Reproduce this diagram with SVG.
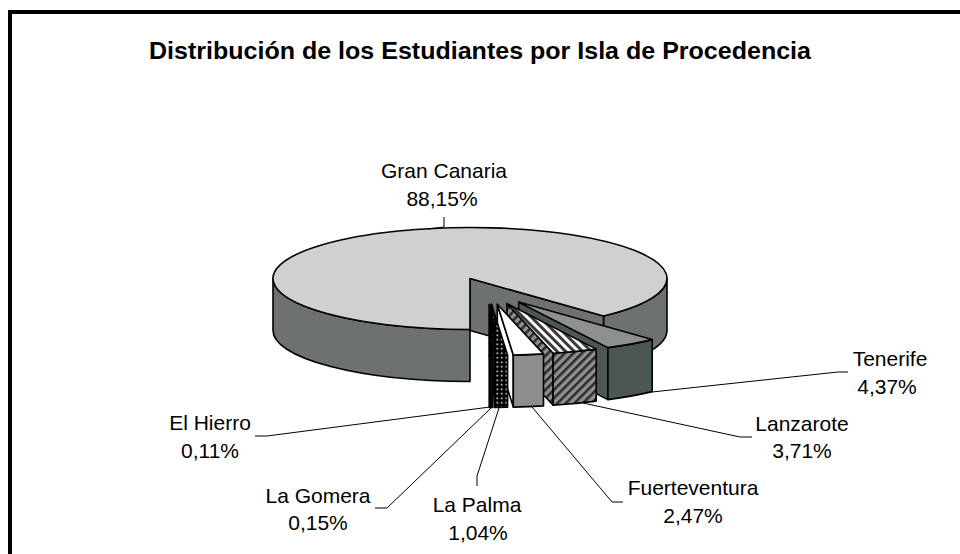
<svg xmlns="http://www.w3.org/2000/svg" width="960" height="554" viewBox="0 0 960 554">
<defs>
<style>
.lbl{font-family:"Liberation Sans",Arial,sans-serif;font-size:21px;fill:#000;text-anchor:middle}
.title{font-family:"Liberation Sans",Arial,sans-serif;font-size:23px;font-weight:bold;fill:#000;text-anchor:middle}
.s{stroke:#000;stroke-width:1.6;stroke-linejoin:round}
.lead{fill:none;stroke:#000;stroke-width:1}
.gcTop{fill:#d0d0d0}.gcSide{fill:#6e7171}
.teTop{fill:#8e9090}.teSide{fill:#4c5654}
.laTop{fill:url(#hatchTop)}.laSide{fill:url(#hatchSide)}
.fuTop{fill:#ffffff}.fuSide{fill:#8c8e8e}
.paAll{fill:url(#dots)}
.goAll{fill:#6e7171}
.hiAll{fill:#c0c0c0}
</style>
<pattern id="hatchTop" patternUnits="userSpaceOnUse" width="6" height="6" patternTransform="rotate(-45)">
<rect width="6" height="6" fill="#ffffff"/><rect width="3" height="6" fill="#3a3a3a"/>
</pattern>
<pattern id="hatchSide" patternUnits="userSpaceOnUse" width="6" height="6" patternTransform="rotate(45)">
<rect width="6" height="6" fill="#909090"/><rect width="2.6" height="6" fill="#2e2e2e"/>
</pattern>
<pattern id="dots" patternUnits="userSpaceOnUse" width="4.5" height="4.5">
<rect width="4.5" height="4.5" fill="#000"/><circle cx="2.25" cy="2.25" r="0.9" fill="#fff"/>
</pattern>
</defs>
<rect width="960" height="554" fill="#fff"/>
<rect x="10" y="12" width="960" height="560" fill="none" stroke="#000" stroke-width="4"/>
<text class="title" x="480" y="59" textLength="662" lengthAdjust="spacingAndGlyphs">Distribución de los Estudiantes por Isla de Procedencia</text>

<g id="slice-gran-canaria">
<path class="s gcSide" d="M470,329.5 A197,51 0 0 1 273,278.5 L273,330.5 A197,51 0 0 0 470,381.5 Z"/>
<path class="s gcSide" d="M667,278.5 A197,51 0 0 1 603.5,316 L603.5,368 A197,51 0 0 0 667,330.5 Z"/>
<path class="s gcSide" d="M470,278.5 L603.5,316 L603.5,368 L470,330.5 Z"/>
<path class="s gcTop" d="M470,278.5 L470,329.5 A197,51 0 1 1 603.5,316 Z"/>
</g>
<g id="slice-tenerife">
<path class="s teSide" d="M518.7,302.1 L607.9,347.6 L607.9,399.6 L518.7,354.1 Z"/>
<path class="s teSide" d="M652.2,339.6 A197,51 0 0 1 607.9,347.6 L607.9,399.6 A197,51 0 0 0 652.2,391.6 Z"/>
<path class="s teTop" d="M518.7,302.1 L652.2,339.6 A197,51 0 0 1 607.9,347.6 Z"/>
</g>
<g id="slice-lanzarote">
<path class="s laSide" d="M507,303.6 L553.2,353.2 L553.2,405.2 L507,355.6 Z"/>
<path class="s laSide" d="M596.2,349.1 A197,51 0 0 1 553.2,353.2 L553.2,405.2 A197,51 0 0 0 596.2,401.1 Z"/>
<path class="s laTop" d="M507,303.6 L596.2,349.1 A197,51 0 0 1 553.2,353.2 Z"/>
</g>
<g id="slice-fuerteventura">
<path class="s fuTop" d="M497.3,304.3 L513.3,355.1 L513.3,407.1 L497.3,356.3 Z"/>
<path class="s fuSide" d="M543.5,353.9 A197,51 0 0 1 513.3,355.1 L513.3,407.1 A197,51 0 0 0 543.5,405.9 Z"/>
<path class="s fuTop" d="M497.3,304.3 L543.5,353.9 A197,51 0 0 1 513.3,355.1 Z"/>
</g>
<g id="slice-la-palma">
<path class="s paAll" d="M491.6,304.4 L494.8,355.4 L494.8,407.4 L491.6,356.4 Z"/>
<path class="s paAll" d="M507.6,355.3 A197,51 0 0 1 494.8,355.4 L494.8,407.4 A197,51 0 0 0 507.6,407.3 Z"/>
<path class="s paAll" d="M491.6,304.4 L507.6,355.3 A197,51 0 0 1 494.8,355.4 Z"/>
</g>
<g id="slice-la-gomera">
<path class="s goAll" d="M489.6,304.5 L491,355.5 L491,407.5 L489.6,356.5 Z"/>
<path class="s goAll" d="M492.8,355.5 L491,355.5 L491,407.5 L492.8,407.5 Z"/>
<path class="s goAll" d="M489.6,304.5 L492.8,355.5 L491,355.5 Z"/>
</g>
<g id="slice-el-hierro">
<path class="s hiAll" d="M490.6,355.5 L489.2,355.5 L489.2,407.5 L490.6,407.5 Z"/>
<path class="s hiAll" d="M489.2,304.5 L490.6,355.5 L489.2,355.5 Z"/>
</g>

<g id="leaders">
<path class="lead" d="M444,217 L444,227 L428,229"/>
<path class="lead" d="M848,372 L838,372 L652,392"/>
<path class="lead" d="M752,437 L740,437 L583,403"/>
<path class="lead" d="M623,502 L612,502 L532,407"/>
<path class="lead" d="M477,486 L477,476 L499,408"/>
<path class="lead" d="M375,508 L387,508 L491,408"/>
<path class="lead" d="M255,436 L267,436 L490,407"/>
</g>

<g id="label-gran-canaria"><text class="lbl" x="444" y="178">Gran Canaria</text><text class="lbl" x="442" y="206">88,15%</text></g>
<g id="label-tenerife"><text class="lbl" x="890" y="366">Tenerife</text><text class="lbl" x="887" y="394">4,37%</text></g>
<g id="label-lanzarote"><text class="lbl" x="802" y="431">Lanzarote</text><text class="lbl" x="802" y="458">3,71%</text></g>
<g id="label-fuerteventura"><text class="lbl" x="693" y="495">Fuerteventura</text><text class="lbl" x="693" y="523">2,47%</text></g>
<g id="label-la-palma"><text class="lbl" x="477" y="512">La Palma</text><text class="lbl" x="478" y="540">1,04%</text></g>
<g id="label-la-gomera"><text class="lbl" x="318" y="503">La Gomera</text><text class="lbl" x="318" y="530">0,15%</text></g>
<g id="label-el-hierro"><text class="lbl" x="210" y="430">El Hierro</text><text class="lbl" x="210" y="458">0,11%</text></g>
</svg>
